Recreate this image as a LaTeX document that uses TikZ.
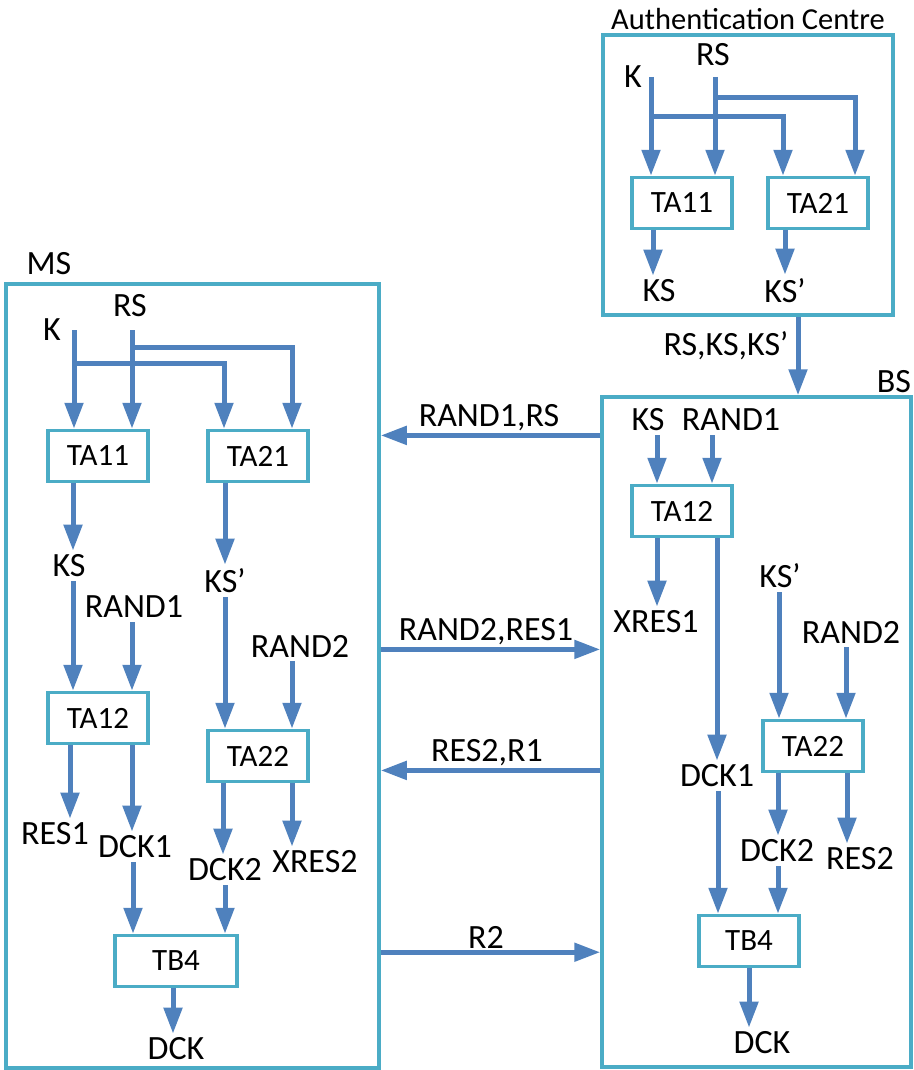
\documentclass[tikz,border=0pt]{standalone}
\usepackage{fontspec}
\setmainfont{Carlito}
\usetikzlibrary{arrows.meta,positioning,calc}
\definecolor{frameaqua}{HTML}{4BACC6}
\definecolor{flowblue}{HTML}{4F81BD}
\tikzset{
  unit/.style={draw=frameaqua, line width=3.5pt, inner sep=0pt},
  fbox/.style={draw=frameaqua, line width=3.5pt, fill=white, minimum width=100pt, minimum height=51pt,
               inner sep=0pt, font=\fontsize{31}{34}\selectfont},
  lab/.style={inner sep=4pt, font=\fontsize{34}{38}\selectfont},
  title/.style={inner sep=2pt, font=\fontsize{30.5}{33}\selectfont},
  arr/.style={draw=flowblue, line width=5pt, -{Triangle[length=26pt,width=18pt]}},
}
\begin{document}
\begin{tikzpicture}[x=1pt,y=-1pt]
  \useasboundingbox (0,0) rectangle (913,1070);
  % the three units
  \node[unit, minimum width=290pt, minimum height=280pt] (auc) at (748,175) {};
  \node[title, above=1pt of auc] (auct) {Authentication Centre};
  \node[unit, minimum width=373pt, minimum height=784pt] (ms) at (192.5,676) {};
  \node[lab] (mst) at (49,264) {MS};
  \node[unit, minimum width=309pt, minimum height=670pt] (bs) at (756.5,732) {};
  \node[lab] (bst) at (894,382) {BS};

  % Authentication Centre
  \node[lab] (acK) at (633,77) {K};
  \node[lab] (acRS) at (713,55) {RS};
  \node[fbox] (acTA11) at (682,203) {TA11};
  \node[fbox] (acTA21) at (818,203) {TA21};
  \node[lab] (acKS) at (659,291) {KS};
  \node[lab] (acKSp) at (785,291) {KS’};
  \coordinate (acKj) at (651,117);
  \coordinate (acRSj) at (715,98);
  \draw[arr] (acKj |- acK.center) -- (acKj |- acTA11.north);
  \draw[arr] (acRSj |- acK.center) -- (acRSj |- acTA11.north);
  \draw[arr] (acKj) -| ([xshift=-35pt]acTA21.north);
  \draw[arr] (acRSj) -| ([xshift=37pt]acTA21.north);
  \draw[arr] ([xshift=-29pt]acTA11.south) -- ([xshift=-29pt]acTA11.south |- acKS.north);
  \draw[arr] ([xshift=-33pt]acTA21.south) -- ([xshift=-33pt]acTA21.south |- acKSp.north);
  \node[lab] (abm) at (726,346) {RS,KS,KS’};
  \draw[arr] ([xshift=50pt]auc.south) -- ([xshift=50pt]auc.south |- bs.north);

  % MS
  \node[lab] (msK) at (52,330) {K};
  \node[lab] (msRS) at (130,306) {RS};
  \node[fbox] (msTA11) at (98,456) {TA11};
  \node[fbox] (msTA21) at (258,456) {TA21};
  \coordinate (msKj) at (74,363);
  \coordinate (msRSj) at (132,347);
  \draw[arr] (msKj |- msK.center) -- (msKj |- msTA11.north);
  \draw[arr] (msRSj |- msK.center) -- (msRSj |- msTA11.north);
  \draw[arr] (msKj) -| ([xshift=-34pt]msTA21.north);
  \draw[arr] (msRSj) -| ([xshift=34pt]msTA21.north);
  \node[lab] (msKS) at (69,566) {KS};
  \node[lab] (msKSp) at (225,581) {KS’};
  \draw[arr] ([xshift=-25pt]msTA11.south) -- ([xshift=-25pt]msTA11.south |- msKS.north);
  \draw[arr] ([xshift=-33pt]msTA21.south) -- ([xshift=-33pt]msTA21.south |- msKSp.north);
  \node[lab] (msRAND1) at (134,607) {RAND1};
  \node[lab] (msRAND2) at (300,646) {RAND2};
  \node[fbox] (msTA12) at (98,718) {TA12};
  \node[fbox] (msTA22) at (258,756) {TA22};
  \draw[arr] ([xshift=-25pt]msTA12.north |- msKS.south) -- ([xshift=-25pt]msTA12.north);
  \draw[arr] ([xshift=34pt]msTA12.north |- msRAND1.south) -- ([xshift=34pt]msTA12.north);
  \draw[arr] ([xshift=-33pt]msTA22.north |- msKSp.south) -- ([xshift=-33pt]msTA22.north);
  \draw[arr] ([xshift=34pt]msTA22.north |- msRAND2.south) -- ([xshift=34pt]msTA22.north);
  \node[lab] (msRES1) at (55,834) {RES1};
  \node[lab] (msDCK1) at (135,847) {DCK1};
  \node[lab] (msDCK2) at (225,870) {DCK2};
  \node[lab] (msXRES2) at (315,862) {XRES2};
  \draw[arr] ([xshift=-28pt]msTA12.south) -- ([xshift=-28pt]msTA12.south |- msRES1.north);
  \draw[arr] ([xshift=34pt]msTA12.south) -- ([xshift=34pt]msTA12.south |- msDCK1.north);
  \draw[arr] ([xshift=-35pt]msTA22.south) -- ([xshift=-35pt]msTA22.south |- msDCK2.north);
  \draw[arr] ([xshift=34pt]msTA22.south) -- ([xshift=34pt]msTA22.south |- msXRES2.north);
  \node[fbox, minimum width=122pt] (msTB4) at (176,961) {TB4};
  \node[lab] (msDCK) at (176,1049) {DCK};
  \draw[arr] ([xshift=-43pt]msTB4.north |- msDCK1.south) -- ([xshift=-43pt]msTB4.north);
  \draw[arr] ([xshift=49pt]msTB4.north |- msDCK2.south) -- ([xshift=49pt]msTB4.north);
  \draw[arr] ([xshift=-3pt]msTB4.south) -- ([xshift=-3pt]msTB4.south |- msDCK.north);

  % BS
  \node[lab] (bsKS) at (648,420) {KS};
  \node[lab] (bsRAND1) at (731,420) {RAND1};
  \node[fbox] (bsTA12) at (682,511) {TA12};
  \draw[arr] ([xshift=-25pt]bsTA12.north |- bsKS.south) -- ([xshift=-25pt]bsTA12.north);
  \draw[arr] ([xshift=30pt]bsTA12.north |- bsRAND1.south) -- ([xshift=30pt]bsTA12.north);
  \node[lab] (bsXRES1) at (656,622) {XRES1};
  \node[lab] (bsDCK1) at (717,776) {DCK1};
  \draw[arr] ([xshift=-25pt]bsTA12.south) -- ([xshift=-25pt]bsTA12.south |- bsXRES1.north);
  \draw[arr] ([xshift=35pt]bsTA12.south) -- ([xshift=35pt]bsTA12.south |- bsDCK1.north);
  \node[lab] (bsKSp) at (780,576) {KS’};
  \node[lab] (bsRAND2) at (851,632) {RAND2};
  \node[fbox] (bsTA22) at (813,746) {TA22};
  \draw[arr] ([xshift=-34pt]bsTA22.north |- bsKSp.south) -- ([xshift=-34pt]bsTA22.north);
  \draw[arr] ([xshift=33pt]bsTA22.north |- bsRAND2.south) -- ([xshift=33pt]bsTA22.north);
  \node[lab] (bsDCK2) at (777,851) {DCK2};
  \node[lab] (bsRES2) at (860,859) {RES2};
  \draw[arr] ([xshift=-35pt]bsTA22.south) -- ([xshift=-35pt]bsTA22.south |- bsDCK2.north);
  \draw[arr] ([xshift=34pt]bsTA22.south) -- ([xshift=34pt]bsTA22.south |- bsRES2.north);
  \node[fbox] (bsTB4) at (749,941) {TB4};
  \node[lab] (bsDCK) at (762,1043) {DCK};
  \draw[arr] ([xshift=-31pt]bsTB4.north |- bsDCK1.south) -- ([xshift=-31pt]bsTB4.north);
  \draw[arr] ([xshift=29pt]bsTB4.north |- bsDCK2.south) -- ([xshift=29pt]bsTB4.north);
  \draw[arr] (bsTB4.south) -- (bsTB4.south |- bsDCK.north);

  % messages between MS and BS
  \node[lab] (m1) at (489,418) {RAND1,RS};
  \node[lab] (m2) at (486,632) {RAND2,RES1};
  \node[lab] (m3) at (487,753) {RES2,R1};
  \node[lab] (m4) at (486,937) {R2};
  \draw[arr] (m1.south -| bs.west) -- (m1.south -| ms.east);
  \draw[arr] (m2.south -| ms.east) -- (m2.south -| bs.west);
  \draw[arr] (m3.south -| bs.west) -- (m3.south -| ms.east);
  \draw[arr] (m4.south -| ms.east) -- (m4.south -| bs.west);
\end{tikzpicture}
\end{document}
